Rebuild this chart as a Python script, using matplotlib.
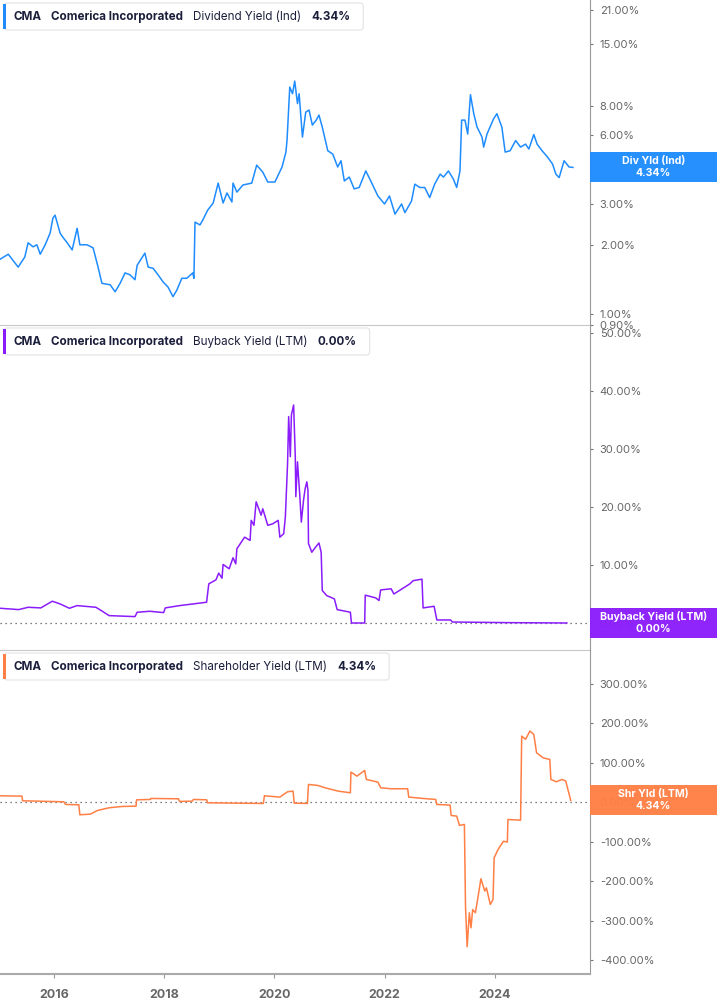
import matplotlib
matplotlib.use("Agg")
import matplotlib.pyplot as plt
from matplotlib.patches import Rectangle, FancyBboxPatch
from matplotlib.transforms import IdentityTransform
from matplotlib.ticker import FixedLocator, NullLocator, FuncFormatter

plt.rcParams['font.family'] = ['Inter', 'DejaVu Sans']

# ---- data (decimal years, percent) ----
div_years = [2015.02, 2015.17, 2015.35, 2015.47, 2015.53, 2015.62, 2015.69, 2015.75, 2015.84, 2015.93,
             2015.98, 2016.02, 2016.11, 2016.16, 2016.24, 2016.33, 2016.42, 2016.47, 2016.60, 2016.71,
             2016.80, 2016.87, 2017.02, 2017.11, 2017.20, 2017.29, 2017.38, 2017.47, 2017.51, 2017.65,
             2017.71, 2017.80, 2017.89, 2017.98, 2018.07, 2018.16, 2018.23, 2018.32, 2018.41, 2018.52,
             2018.54, 2018.56, 2018.65, 2018.70, 2018.79, 2018.89, 2018.98, 2019.07, 2019.14, 2019.23,
             2019.25, 2019.32, 2019.43, 2019.59, 2019.68, 2019.79, 2019.88, 2020.01, 2020.14, 2020.21,
             2020.23, 2020.28, 2020.33, 2020.37, 2020.42, 2020.45, 2020.51, 2020.57, 2020.63, 2020.69,
             2020.76, 2020.81, 2020.87, 2020.97, 2021.06, 2021.15, 2021.21, 2021.27, 2021.36, 2021.45,
             2021.54, 2021.66, 2021.75, 2021.88, 2022.00, 2022.09, 2022.19, 2022.31, 2022.37, 2022.49,
             2022.55, 2022.64, 2022.73, 2022.82, 2022.91, 2023.01, 2023.07, 2023.16, 2023.25, 2023.31,
             2023.37, 2023.40, 2023.46, 2023.51, 2023.56, 2023.62, 2023.68, 2023.77, 2023.80, 2023.86,
             2023.98, 2024.04, 2024.13, 2024.19, 2024.28, 2024.38, 2024.47, 2024.56, 2024.62, 2024.71,
             2024.77, 2024.86, 2024.96, 2025.05, 2025.11, 2025.17, 2025.26, 2025.35, 2025.42]
div_yield = [1.73, 1.82, 1.60, 1.77, 2.04, 1.96, 2.00, 1.82, 2.00, 2.25,
             2.61, 2.69, 2.25, 2.16, 2.04, 1.90, 2.36, 2.00, 2.00, 1.94,
             1.60, 1.36, 1.34, 1.25, 1.36, 1.51, 1.48, 1.41, 1.63, 1.84,
             1.60, 1.58, 1.48, 1.38, 1.31, 1.19, 1.27, 1.43, 1.43, 1.51,
             1.43, 2.51, 2.44, 2.56, 2.83, 3.04, 3.71, 3.04, 3.36, 3.07,
             3.71, 3.39, 3.64, 3.71, 4.44, 4.14, 3.75, 3.75, 4.36, 5.06,
             5.68, 9.70, 9.08, 10.3, 8.22, 9.08, 5.88, 7.55, 7.71, 6.63,
             6.97, 7.33, 6.50, 5.13, 4.96, 4.36, 4.64, 3.79, 3.94, 3.50,
             3.55, 4.19, 3.79, 3.26, 3.01, 3.26, 2.72, 3.01, 2.76, 3.10,
             3.67, 3.55, 3.55, 3.21, 3.67, 4.06, 3.94, 4.19, 3.86, 3.55,
             4.19, 6.97, 6.97, 6.06, 8.99, 7.43, 6.50, 5.88, 5.32, 6.06,
             7.06, 7.43, 6.50, 5.06, 5.13, 5.68, 5.32, 5.48, 5.22, 6.03,
             5.48, 5.13, 4.81, 4.49, 4.06, 3.92, 4.64, 4.36, 4.34]

bb_years = [2015.02, 2015.36, 2015.53, 2015.76, 2015.97, 2016.11, 2016.28, 2016.42, 2016.76, 2016.86,
            2017.00, 2017.47, 2017.51, 2017.74, 2017.99, 2018.02, 2018.28, 2018.53, 2018.77, 2018.81,
            2018.94, 2018.99, 2019.05, 2019.07, 2019.18, 2019.25, 2019.30, 2019.32, 2019.46, 2019.56,
            2019.58, 2019.63, 2019.67, 2019.76, 2019.79, 2019.88, 2019.97, 2020.07, 2020.10, 2020.17,
            2020.20, 2020.24, 2020.26, 2020.29, 2020.31, 2020.35, 2020.38, 2020.39, 2020.42, 2020.46,
            2020.49, 2020.53, 2020.56, 2020.59, 2020.61, 2020.62, 2020.68, 2020.75, 2020.81, 2020.85,
            2020.87, 2020.95, 2021.09, 2021.14, 2021.38, 2021.40, 2021.64, 2021.65, 2021.84, 2021.90,
            2021.93, 2022.12, 2022.17, 2022.32, 2022.46, 2022.52, 2022.68, 2022.70, 2022.90, 2022.95,
            2023.20, 2023.23, 2024.23, 2025.31]
bb_yield = [2.54, 2.31, 2.71, 2.60, 3.75, 3.29, 2.54, 3.00, 2.71, 2.13,
            1.27, 1.10, 1.85, 2.02, 1.79, 2.60, 3.00, 3.29, 3.58, 6.75,
            7.44, 8.60, 7.73, 10.1, 9.35, 11.25, 10.2, 12.8, 14.8, 14.25,
            17.7, 16.85, 20.9, 18.6, 19.7, 16.85, 17.1, 17.7, 14.8, 15.4,
            18.3, 27.5, 35.6, 28.7, 35.9, 37.6, 28.7, 21.8, 27.8, 22.3,
            17.4, 21.2, 23.2, 24.35, 22.9, 13.7, 12.2, 13.1, 13.8, 12.2,
            5.6, 4.73, 4.15, 2.31, 1.85, 0.0, 0.0, 4.8, 4.33, 3.87,
            5.7, 5.9, 5.0, 5.9, 6.75, 7.3, 7.56, 2.6, 2.88, 0.52,
            0.52, 0.17, 0.06, 0.0]

shr_years = [2015.02, 2015.42, 2015.43, 2016.18, 2016.21, 2016.45, 2016.47, 2016.66, 2016.79, 2017.00,
             2017.24, 2017.49, 2017.50, 2017.75, 2017.76, 2018.26, 2018.28, 2018.51, 2018.53, 2018.77,
             2018.79, 2019.80, 2019.82, 2020.10, 2020.24, 2020.34, 2020.36, 2020.60, 2020.62, 2020.79,
             2020.92, 2021.16, 2021.38, 2021.39, 2021.50, 2021.64, 2021.67, 2021.88, 2021.93, 2022.12,
             2022.42, 2022.44, 2022.70, 2022.93, 2022.95, 2023.19, 2023.21, 2023.31, 2023.36, 2023.45,
             2023.47, 2023.50, 2023.54, 2023.57, 2023.60, 2023.65, 2023.70, 2023.75, 2023.82, 2023.85,
             2023.92, 2023.97, 2023.99, 2024.06, 2024.16, 2024.23, 2024.24, 2024.47, 2024.49, 2024.56,
             2024.64, 2024.71, 2024.76, 2024.88, 2025.00, 2025.02, 2025.12, 2025.22, 2025.29, 2025.38]
shr_yield = [16, 15.2, 3.4, 0.8, -5.9, -6.8, -32, -30.4, -21.1, -14.3,
             -11, -10.1, 5.9, 6.75, 9.3, 8.4, 1.7, 2.5, 6.75, 5.9,
             -1.7, -3.4, 16, 12.7, 26.2, 27.8, -2.5, -3.4, 44.7, 42.2,
             36.3, 27.8, 23.6, 76, 65.8, 80.2, 57.4, 50.6, 36.3, 33.8,
             33.8, 12.7, 9.3, 6.75, -5.9, -7.6, -33.8, -35.4, -59, -56.5,
             -263, -366, -280, -318, -272, -280, -238, -194, -225, -217,
             -259, -246, -141, -120, -99, -101, -44, -45.6, 167, 159,
             180, 171, 125, 112, 108, 57.4, 51.5, 57.4, 53.2, 4.34]

div_ticks = [0.9, 1, 2, 3, 6, 8, 15, 21]
bb_ticks = [0, 10, 20, 30, 40, 50]
shr_ticks = [-400, -300, -200, -100, 0, 100, 200, 300]
year_ticks = [2016, 2018, 2020, 2022, 2024]

BLUE = '#1e8cff'
PURPLE = '#8a1cfb'
ORANGE = '#ff7f45'
NAVY = '#1b1f3b'

W, H = 717, 1005
AX_RIGHT = 590
fig = plt.figure(figsize=(W / 100, H / 100), dpi=100)


def px_axes(y0, y1):
    return fig.add_axes([0, 1 - y1 / H, AX_RIGHT / W, (y1 - y0) / H])


pct = FuncFormatter(lambda v, p: '%.2f%%' % v)

ax1 = px_axes(0, 325)
ax2 = px_axes(325, 650)
ax3 = px_axes(650, 974)

ax1.plot(div_years, div_yield, color=BLUE, lw=1.1)
ax1.set_yscale('log')
ax1.set_ylim(0.896, 23.2)
ax1.yaxis.set_major_locator(FixedLocator(div_ticks))
ax1.yaxis.set_minor_locator(NullLocator())

ax2.plot(bb_years, bb_yield, color=PURPLE, lw=1.1)
ax2.set_ylim(-4.66, 51.4)
ax2.set_yticks(bb_ticks)

ax3.plot(shr_years, shr_yield, color=ORANGE, lw=1.1)
ax3.set_ylim(-435, 385)
ax3.set_yticks(shr_ticks)

for ax in (ax2, ax3):
    ax.axhline(0, color='#555555', lw=0.9, ls=(0, (1, 3)), zorder=1)

for ax in (ax1, ax2, ax3):
    ax.set_xlim(2015.02, 2025.73)
    ax.yaxis.tick_right()
    ax.yaxis.set_major_formatter(pct)
    ax.tick_params(axis='y', length=2, width=0.8, color='#777777', labelsize=8,
                   labelcolor='#666666', pad=5)
    ax.spines['left'].set_visible(False)
    ax.spines['top'].set_visible(False)
    ax.spines['right'].set_color('#999999')
    ax.spines['bottom'].set_color('#c8c8c8')
    ax.patch.set_alpha(0)

ax1.set_xticks([])
ax2.set_xticks([])
ax3.set_xticks(year_ticks)
ax3.set_xticklabels([str(y) for y in year_ticks], fontweight='bold')
ax3.tick_params(axis='x', length=3, color='#999999', labelsize=9, labelcolor='#666666', pad=8)
ax3.spines['bottom'].set_color('#aaaaaa')
ax3.spines['bottom'].set_linewidth(1.5)

renderer = fig.canvas.get_renderer()


def legend_box(top, color, metric, value):
    parts = [('CMA', 'bold'), ('Comerica Incorporated', 'bold'),
             (metric, 'normal'), (value, 'bold')]
    yc = H - (top + 14)
    x = 13
    last = None
    for txt, wt in parts:
        last = fig.text(x, yc, txt, transform=IdentityTransform(), fontsize=8.4,
                        fontweight=wt, color=NAVY, va='center', ha='left', zorder=5)
        x = last.get_window_extent(renderer).x1 + 10
    right = last.get_window_extent(renderer).x1 + 13
    box = FancyBboxPatch((4, H - top - 27), right - 4, 27,
                         boxstyle='round,pad=0,rounding_size=3',
                         transform=IdentityTransform(), facecolor='white',
                         edgecolor='#e3e3e3', lw=0.8, zorder=4)
    fig.add_artist(box)
    fig.add_artist(Rectangle((3, H - top - 26), 3, 25, transform=IdentityTransform(),
                             facecolor=color, edgecolor='none', zorder=5))


legend_box(3, BLUE, 'Dividend Yield (Ind)', '4.34%')
legend_box(328, PURPLE, 'Buyback Yield (LTM)', '0.00%')
legend_box(653, ORANGE, 'Shareholder Yield (LTM)', '4.34%')


def badge(ax, value, color, line1, line2):
    yd = ax.transData.transform((2025.0, value))[1]
    fig.add_artist(Rectangle((AX_RIGHT, yd - 15), W - AX_RIGHT, 30, transform=IdentityTransform(),
                             facecolor=color, edgecolor='none', alpha=0.96, zorder=6))
    xc = (AX_RIGHT + W) / 2
    fig.text(xc, yd + 6, line1, transform=IdentityTransform(), fontsize=7.6, fontweight='bold',
             color='white', ha='center', va='center', zorder=7)
    fig.text(xc, yd - 6, line2, transform=IdentityTransform(), fontsize=7.6, fontweight='bold',
             color='white', ha='center', va='center', zorder=7)


badge(ax1, div_yield[-1], BLUE, 'Div Yld (Ind)', '4.34%')
badge(ax2, 0.0, PURPLE, 'Buyback Yield (LTM)', '0.00%')
badge(ax3, 4.34, ORANGE, 'Shr Yld (LTM)', '4.34%')

fig.savefig('out.png', dpi=100)
